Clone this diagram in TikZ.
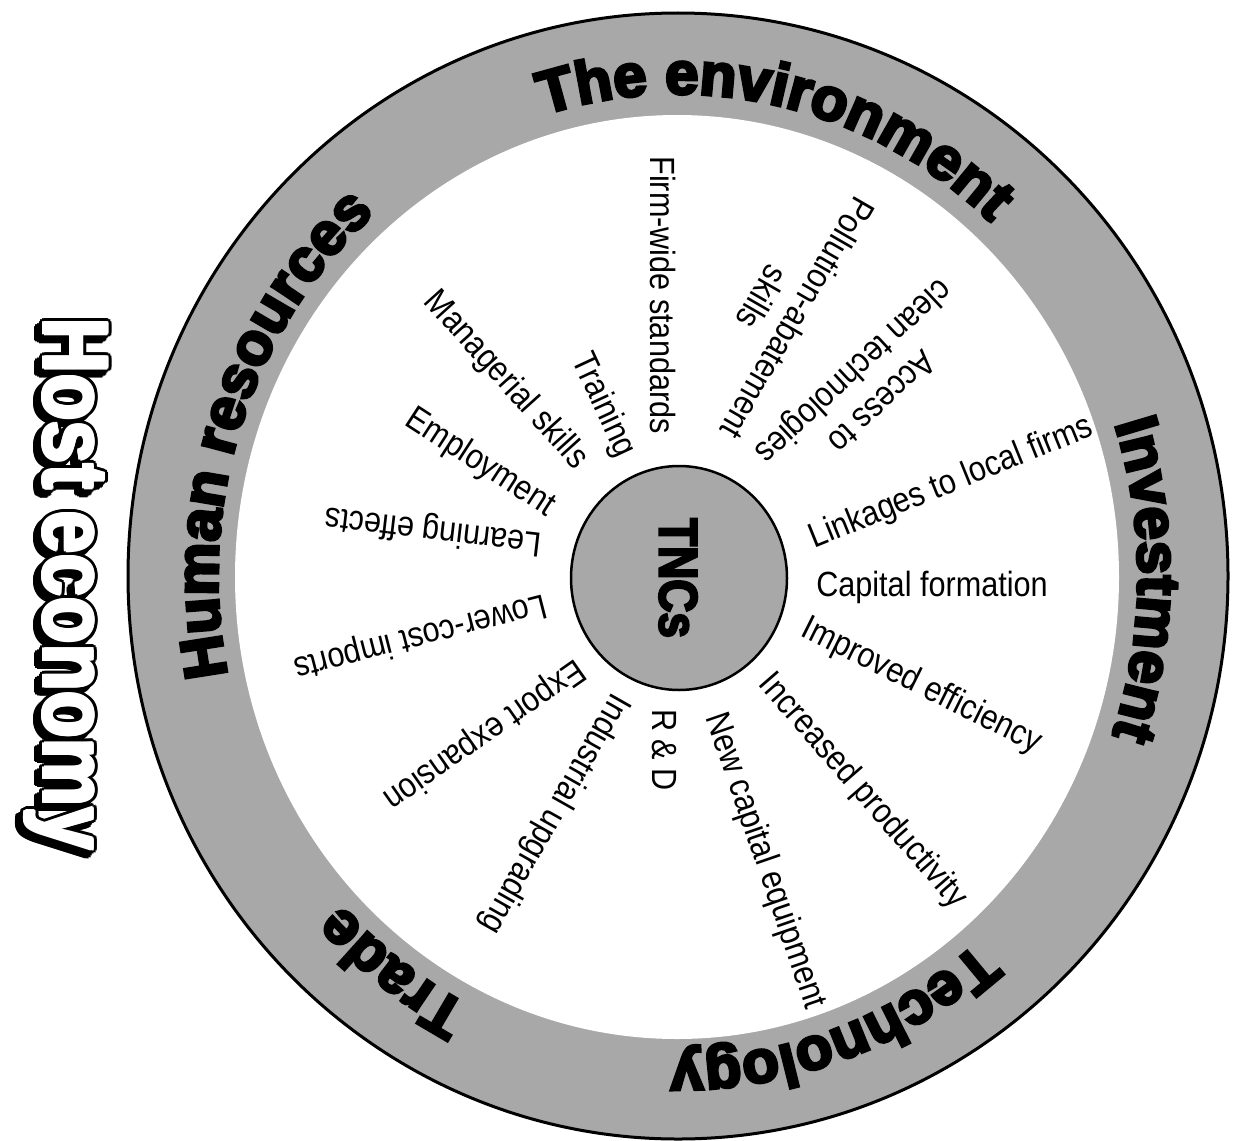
\documentclass[tikz,border=0pt]{standalone}
\usepackage{fontspec}
\usetikzlibrary{decorations.text,shapes.geometric}
\setmainfont{Liberation Sans}
% narrow face for the spoke labels
\newfontfamily\labelfam{Liberation Sans}[FakeStretch=0.875]
% heavy faces for the ring titles and the hub
\newfontfamily\ringfam{Liberation Sans Bold}[FakeBold=5]
\newfontfamily\hubfam{Liberation Sans Bold}[FakeStretch=0.85,FakeBold=4]
% face of the outlined, shadowed title
\newfontfamily\hostfam{Liberation Sans Bold}[FakeStretch=0.84]
\definecolor{ringgray}{gray}{0.66}
\newcommand\ringfont{\ringfam\fontsize{60}{60}\selectfont}
\newcommand\hostfont{\hostfam\fontsize{92}{92}\selectfont}

\begin{document}
\begin{tikzpicture}[x=1pt,y=1pt,
  lbl/.style={font=\labelfam\fontsize{35}{42}\selectfont, inner sep=0pt,
              text height=25pt, text depth=0pt},
  lbltwo/.style={font=\labelfam\fontsize{35}{41}\selectfont, inner sep=0pt, align=center},
  ringlabel/.style={decorate, decoration={text along path, text align=center,
              text={|\ringfont|#1}}},
  hub/.style={ellipse, minimum width=216pt, minimum height=224pt, inner sep=0pt,
              fill=ringgray, draw=black, line width=2.5pt},
  hostlayer/.style={rotate=-90, inner sep=0pt, text height=66pt, text depth=0pt,
              font=\hostfont},
]
\useasboundingbox (0,0) rectangle (1236,-1140);
\fill[white] (0,0) rectangle (1236,-1140);

% outer ring
\filldraw[fill=ringgray, draw=black, line width=3pt]
  (678,-576) ellipse [x radius=550, y radius=563];
\fill[white] (677,-577) ellipse [x radius=442, y radius=462];

% ring titles, set clockwise with letter tops outward
\begin{scope}[shift={(678,-576)}]
  \path[ringlabel={Human resources}]
    (206.35:460 and 482) arc[start angle=206.35, end angle=116.35, x radius=460, y radius=482];
  \path[ringlabel={The environment}]
    (122.2:460 and 482) arc[start angle=122.2, end angle=32.2, x radius=460, y radius=482];
  \path[ringlabel={Investment}]
    (44.55:460 and 482) arc[start angle=44.55, end angle=-45.45, x radius=460, y radius=482];
  \path[ringlabel={Technology}]
    (-25.5:460 and 482) arc[start angle=-25.5, end angle=-115.5, x radius=460, y radius=482];
  \path[ringlabel={Trade}]
    (-81.4:460 and 482) arc[start angle=-81.4, end angle=-171.4, x radius=460, y radius=482];
\end{scope}

% hub
\node[hub] (tnc) at (679,-578) {};
\node[rotate=-90, font=\hubfam\fontsize{54}{54}\selectfont, inner sep=0pt,
      text height=39pt, text depth=0pt] (tnclabel) at (tnc.center) {TNCs};

% spoke labels
\node[lbl, rotate=-90] (firm) at (663,-295) {Firm-wide standards};
\node[lbltwo, rotate=-120] (pollution) at (780,-308) {Pollution-abatement\\skills};
\node[lbltwo, rotate=-137] (access) at (866,-385) {Access to\\clean technologies};
\node[lbl, rotate=22] (linkages) at (950,-480) {Linkages to local firms};
\node[lbl] (capital) at (932,-584) {Capital formation};
\node[lbl, rotate=-26.5] (efficiency) at (923,-683) {Improved efficiency};
\node[lbl, rotate=-49] (productivity) at (865,-789) {Increased productivity};
\node[lbl, rotate=-71] (equipment) at (768,-860) {New capital equipment};
\node[lbl, rotate=-90] (rd) at (665,-750) {R \& D};
\node[lbl, rotate=-119.5] (upgrading) at (557,-815) {Industrial upgrading};
\node[lbl, rotate=-145] (export) at (486,-737) {Export expansion};
\node[lbl, rotate=-165.6] (imports) at (421,-639) {Lower-cost imports};
\node[lbl, rotate=173.4] (learning) at (433,-533) {Learning effects};
\node[lbl, rotate=-33] (employment) at (482,-460) {Employment};
\node[lbl, rotate=-48] (managerial) at (508,-378) {Managerial skills};
\node[lbl, rotate=-65] (training) at (606,-404) {Training};

% outlined title: black drop shadow, black rim, widened white face
\foreach \k in {0,...,15} {
  \path (72,-589) ++(\k*22.5:4.5) node[hostlayer] (hostshadow-\k) {Host economy};
}
\foreach \k in {0,...,15} {
  \path (77,-584) ++(\k*22.5:4.5) node[hostlayer] (hostrim-\k) {Host economy};
}
\foreach \k in {0,...,7} {
  \path (77,-584) ++(\k*45:1.5) node[hostlayer, text=white] (hostface-\k) {Host economy};
}
\node[hostlayer, text=white] (host) at (77,-584) {Host economy};
\end{tikzpicture}
\end{document}
